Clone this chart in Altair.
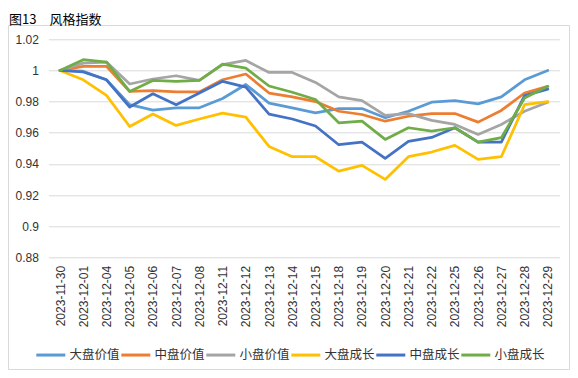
import altair as alt
import pandas as pd

title_text = "图13　风格指数"

dates = ["2023-11-30", "2023-12-01", "2023-12-04", "2023-12-05", "2023-12-06",
         "2023-12-07", "2023-12-08", "2023-12-11", "2023-12-12", "2023-12-13",
         "2023-12-14", "2023-12-15", "2023-12-18", "2023-12-19", "2023-12-20",
         "2023-12-21", "2023-12-22", "2023-12-25", "2023-12-26", "2023-12-27",
         "2023-12-28", "2023-12-29"]

series_names = ["大盘价值", "中盘价值", "小盘价值", "大盘成长", "中盘成长", "小盘成长"]
colors = ["#5B9BD5", "#ED7D31", "#A5A5A5", "#FFC000", "#4472C4", "#70AD47"]

large_value = [1.0, 0.9995, 0.994, 0.978, 0.9745, 0.976, 0.976, 0.982, 0.991, 0.979,
               0.976, 0.9728, 0.9755, 0.9755, 0.9696, 0.9738, 0.9796, 0.9806, 0.9785,
               0.983, 0.994, 1.000]
mid_value = [1.0, 1.0026, 1.0026, 0.9865, 0.987, 0.9862, 0.9862, 0.994, 0.9977, 0.9855,
             0.983, 0.980, 0.9738, 0.9717, 0.9674, 0.9706, 0.9723, 0.9723, 0.9668,
             0.9743, 0.9855, 0.9898]
small_value = [1.0, 1.0047, 1.0054, 0.9913, 0.9945, 0.9966, 0.9936, 1.0038, 1.0064, 0.9987,
               0.9987, 0.9923, 0.983, 0.9806, 0.9711, 0.9723, 0.9679, 0.9653, 0.9589,
               0.9653, 0.9738, 0.9796]
large_growth = [1.0, 0.994, 0.984, 0.964, 0.972, 0.9647, 0.9688, 0.9726, 0.970, 0.9512,
                0.9446, 0.9446, 0.9353, 0.939, 0.930, 0.9446, 0.9476, 0.9519, 0.9429,
                0.9446, 0.978, 0.980]
mid_growth = [1.0, 0.999, 0.994, 0.9765, 0.985, 0.978, 0.9855, 0.993, 0.9893, 0.972,
              0.9688, 0.9643, 0.9523, 0.954, 0.9436, 0.9545, 0.957, 0.9632, 0.954,
              0.954, 0.9838, 0.988]
small_growth = [1.0, 1.0069, 1.0054, 0.9865, 0.9936, 0.993, 0.9936, 1.004, 1.0015, 0.990,
                0.986, 0.9813, 0.9664, 0.9674, 0.9557, 0.9632, 0.9611, 0.9632, 0.954,
                0.9568, 0.9823, 0.9898]

y_ticks = [0.88, 0.90, 0.92, 0.94, 0.96, 0.98, 1.00, 1.02]

all_series = [large_value, mid_value, small_value, large_growth, mid_growth, small_growth]
rows = []
for name, vals in zip(series_names, all_series):
    for d, v in zip(dates, vals):
        rows.append({"date": d, "series": name, "value": v})
df = pd.DataFrame(rows)

W, H = 511, 218

lines = alt.Chart(df).mark_line(strokeWidth=2.75, strokeJoin="round", strokeCap="round").encode(
    x=alt.X("date:N", sort=dates,
            scale=alt.Scale(type="point", padding=0.5),
            axis=alt.Axis(title=None, labelAngle=270, labelAlign="right", labelBaseline="middle",
                          labelFont="Liberation Sans", labelFontSize=12, labelColor="#333333",
                          labelPadding=8, ticks=False, domain=False, grid=False, labelOverlap=False)),
    y=alt.Y("value:Q",
            scale=alt.Scale(domain=[0.88, 1.02], nice=False, zero=False),
            axis=alt.Axis(title=None, values=y_ticks, format="~g",
                          labelFont="Liberation Sans", labelFontSize=12, labelColor="#333333",
                          labelPadding=10, ticks=False, domain=False, grid=True,
                          gridColor="#D9D9D9", gridWidth=1)),
    color=alt.Color("series:N", sort=series_names,
                    scale=alt.Scale(domain=series_names, range=colors),
                    legend=alt.Legend(orient="none", legendX=-13.6, legendY=299.5,
                                      direction="horizontal", columns=6, title=None,
                                      symbolType="stroke", symbolSize=841, symbolStrokeWidth=3,
                                      labelFont="Noto Sans CJK SC", labelFontSize=12.5,
                                      labelColor="#333333", labelOffset=2.6, columnPadding=-10.5,
                                      padding=0)),
)

frame = alt.Chart(pd.DataFrame({"a": [0]})).mark_rect(
    fillOpacity=0, stroke="#D9D9D9", strokeWidth=1
).encode(
    x=alt.value(-39.9), x2=alt.value(521.1), y=alt.value(-13.8), y2=alt.value(330.2)
)

title = alt.Chart(pd.DataFrame({"t": [title_text]})).mark_text(
    align="left", baseline="alphabetic", font="Noto Sans CJK SC", fontSize=13, color="#000000"
).encode(
    x=alt.value(-39.4), y=alt.value(-15.8), text="t:N"
)

chart = alt.layer(frame, lines, title).properties(
    width=W, height=H,
    padding={"left": 40.4, "top": 31.3, "right": 10.6, "bottom": 112.7},
    autosize=alt.AutoSizeParams(type="none"),
    background="white",
).configure_view(stroke=None)

chart.save("out.html", embed_options={"renderer": "svg", "actions": False})
